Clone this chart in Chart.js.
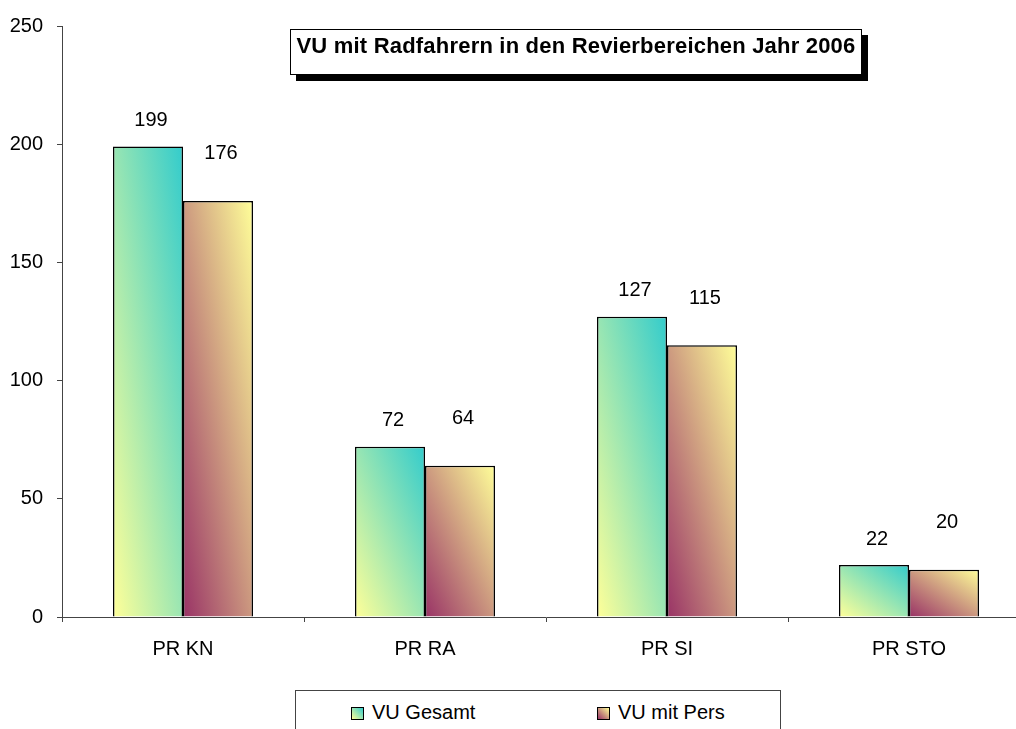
<!DOCTYPE html>
<html>
<head>
<meta charset="utf-8">
<script src="https://cdn.jsdelivr.net/npm/chart.js@4/dist/chart.umd.min.js"></script>
<style>
    html, body { margin: 0; padding: 0; background: #fff; overflow: hidden; width: 1016px; height: 729px; }
    #wrap { position: absolute; left: 0; top: 0; width: 1030px; height: 680px; }
    .title-box {
        position: absolute; left: 290px; top: 29px; width: 570px; height: 39px; padding-top: 5px;
        border: 1px solid #000; box-shadow: 6px 6px 0 #000; background: #fff;
        font: bold 22px "Liberation Sans", Arial, sans-serif; line-height: 22px; letter-spacing: 0.2px;
        text-align: center; white-space: nowrap; color: #000;
    }
    .legend-box {
        position: absolute; left: 295px; top: 690px; width: 484px; height: 60px;
        border: 1px solid #444; background: #fff;
    }
    .legend-item {
        position: absolute; top: 10px; height: 20px; line-height: 20px;
        font: 20px "Liberation Sans", Arial, sans-serif; color: #000; white-space: nowrap;
    }
    .legend-item span.swatch {
        display: inline-block; width: 11px; height: 11px; border: 1px solid #000;
        margin-right: 8px; vertical-align: -1px;
    }
</style>
</head>
<body>
<div id="wrap"><canvas id="chart" width="1030" height="680"></canvas></div>
<div class="title-box" id="title"></div>
<div class="legend-box" id="legend"></div>
<script>
// Chart data
const categories = ['PR KN', 'PR RA', 'PR SI', 'PR STO'];
const seriesNames = ['VU Gesamt', 'VU mit Pers'];
const gesamt = [199, 72, 127, 22];
const mitPers = [176, 64, 115, 20];
const yTicks = [0, 50, 100, 150, 200, 250];
const titleText = 'VU mit Radfahrern in den Revierbereichen Jahr 2006';

// gradient colours: [bottom-left, top-right]
const gradients = [
    ['#FFFF99', '#33CCCC'],
    ['#993366', '#FFFF99']
];
const labelLift = [26, 47];
const font = '"Liberation Sans", Arial, sans-serif';

// Diagonal gradient per bar, isolines parallel to the TL-BR diagonal
const gradientFill = {
    id: 'gradientFill',
    beforeDatasetsDraw(chart) {
        const c = chart.ctx;
        chart.data.datasets.forEach((ds, di) => {
            chart.getDatasetMeta(di).data.forEach(bar => {
                const w = bar.width;
                const h = Math.abs(bar.base - bar.y);
                const left = bar.x - w / 2;
                const k = 2 * w * h / (w * w + h * h);
                const g = c.createLinearGradient(left, bar.base, left + h * k, bar.base - w * k);
                g.addColorStop(0, gradients[di][0]);
                g.addColorStop(1, gradients[di][1]);
                bar.options.backgroundColor = g;
            });
        });
    }
};

// Value labels above bars
const valueLabels = {
    id: 'valueLabels',
    afterDatasetsDraw(chart) {
        const c = chart.ctx;
        c.save();
        c.font = '20px ' + font;
        c.fillStyle = '#000';
        c.textAlign = 'center';
        c.textBaseline = 'middle';
        chart.data.datasets.forEach((ds, di) => {
            chart.getDatasetMeta(di).data.forEach((bar, i) => {
                c.fillText(ds.data[i], bar.x + 3, bar.y - labelLift[di]);
            });
        });
        c.restore();
    }
};

const ctx = document.getElementById('chart').getContext('2d');
const chart = new Chart(ctx, {
    type: 'bar',
    data: {
        labels: categories,
        datasets: [
            {
                label: seriesNames[0],
                data: gesamt,
                backgroundColor: () => gradients[0][1],
                borderColor: '#000',
                borderWidth: 1.5
            },
            {
                label: seriesNames[1],
                data: mitPers,
                backgroundColor: () => gradients[1][1],
                borderColor: '#000',
                borderWidth: 1.5
            }
        ]
    },
    options: {
        responsive: false,
        animation: false,
        categoryPercentage: 0.5785,
        barPercentage: 1.0,
        layout: { padding: { top: 25, left: 0, right: 0, bottom: 0 } },
        plugins: {
            legend: { display: false },
            title: { display: false },
            tooltip: { enabled: false }
        },
        scales: {
            x: {
                afterFit: s => { s.height = 63; },
                border: { color: '#444', width: 1 },
                grid: { drawOnChartArea: false, tickLength: 5, color: '#444', offset: true },
                ticks: { color: '#000', padding: 15, font: { family: font, size: 20 } }
            },
            y: {
                min: 0,
                max: 250,
                afterFit: s => { s.width = 62; },
                afterBuildTicks: s => { s.ticks = yTicks.map(v => ({ value: v })); },
                border: { color: '#444', width: 1 },
                grid: { drawOnChartArea: false, tickLength: 5, color: '#444' },
                ticks: { color: '#000', padding: 14, font: { family: font, size: 20 } }
            }
        }
    },
    plugins: [gradientFill, valueLabels]
});

// Title and legend boxes
document.getElementById('title').textContent = titleText;
const legend = document.getElementById('legend');
const legendLeft = [55, 301];
seriesNames.forEach((name, i) => {
    const item = document.createElement('div');
    item.className = 'legend-item';
    item.style.left = legendLeft[i] + 'px';
    const sw = document.createElement('span');
    sw.className = 'swatch';
    sw.style.background = `linear-gradient(to top right, ${gradients[i][0]}, ${gradients[i][1]})`;
    item.appendChild(sw);
    item.appendChild(document.createTextNode(name));
    legend.appendChild(item);
});
</script>
</body>
</html>
